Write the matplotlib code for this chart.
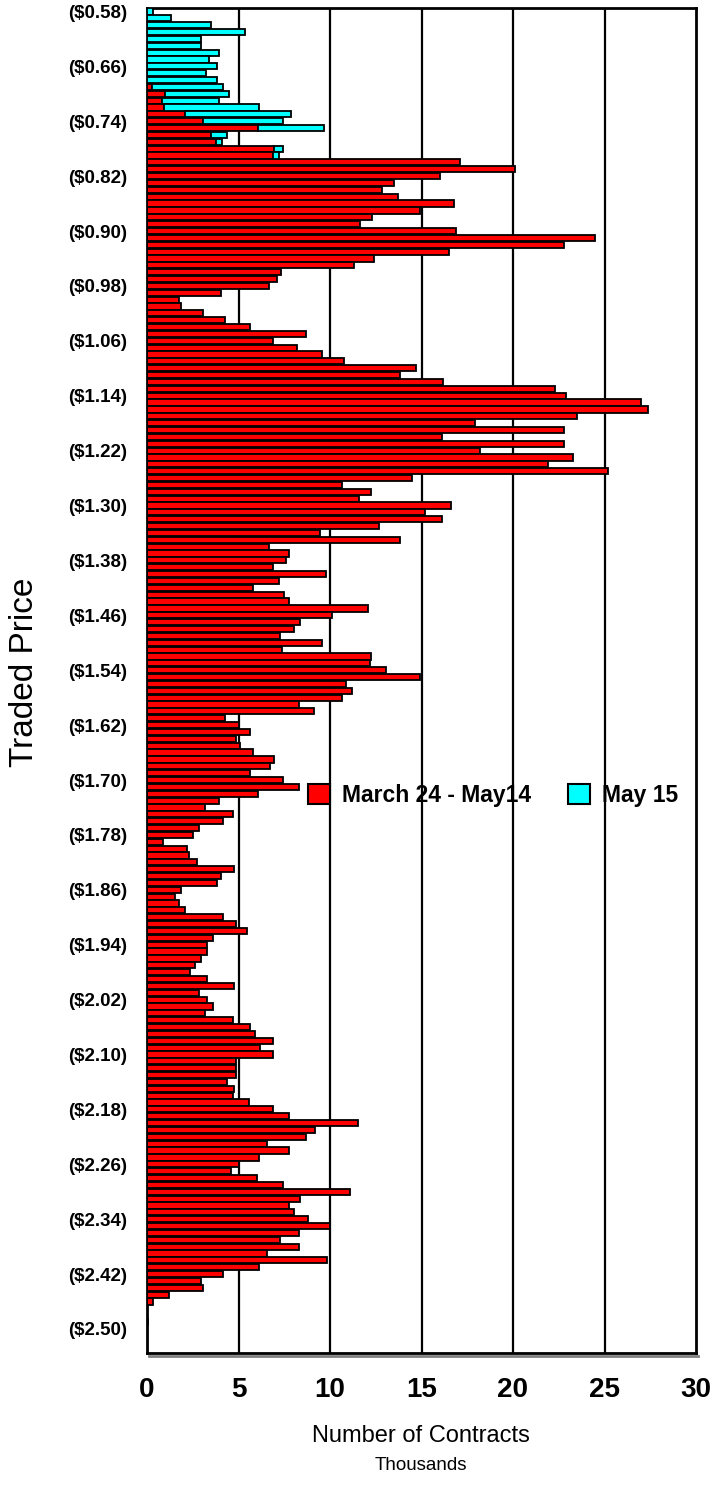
import numpy as np
import matplotlib
matplotlib.use("Agg")
import matplotlib.pyplot as plt
from matplotlib.patches import Patch

plt.rcParams['font.family'] = ['Liberation Sans', 'DejaVu Sans']

# ---- data ----
tick_labels = ["($0.58)", "($0.66)", "($0.74)", "($0.82)", "($0.90)", "($0.98)",
               "($1.06)", "($1.14)", "($1.22)", "($1.30)", "($1.38)", "($1.46)",
               "($1.54)", "($1.62)", "($1.70)", "($1.78)", "($1.86)", "($1.94)",
               "($2.02)", "($2.10)", "($2.18)", "($2.26)", "($2.34)", "($2.42)",
               "($2.50)"]

# March 24 - May14 (thousands of contracts), one value per cent from $0.58 down to $2.53
march_may14 = [
    0, 0, 0, 0, 0, 0, 0, 0, 0, 0,
    0, 0.3, 0.98, 0.8, 0.92, 2.1, 3.06, 6.05, 3.48, 3.79,
    6.96, 6.87, 17.1, 20.1, 16.0, 13.5, 12.85, 13.7, 16.8, 14.9,
    12.3, 11.63, 16.9, 24.5, 22.8, 16.5, 12.4, 11.3, 7.32, 7.08,
    6.65, 4.02, 1.74, 1.85, 3.06, 4.28, 5.65, 8.71, 6.87, 8.17,
    9.58, 10.76, 14.7, 13.84, 16.2, 22.3, 22.9, 27.0, 27.4, 23.5,
    17.9, 22.8, 16.1, 22.8, 18.2, 23.3, 21.9, 25.2, 14.5, 10.63,
    12.26, 11.6, 16.6, 15.2, 16.1, 12.7, 9.46, 13.84, 6.65, 7.74,
    7.59, 6.87, 9.8, 7.19, 5.78, 7.5, 7.74, 12.08, 10.13, 8.37,
    8.04, 7.27, 9.55, 7.38, 12.26, 12.16, 13.06, 14.9, 10.85, 11.2,
    10.63, 8.28, 9.13, 4.24, 5.0, 5.65, 4.88, 5.1, 5.78, 6.96,
    6.74, 5.65, 7.41, 8.28, 6.09, 3.91, 3.15, 4.69, 4.15, 2.84,
    2.52, 0.89, 2.19, 2.3, 2.74, 4.78, 4.02, 3.82, 1.85, 1.52,
    1.76, 2.1, 4.15, 4.88, 5.45, 3.6, 3.3, 3.3, 2.93, 2.61,
    2.37, 3.3, 4.78, 2.84, 3.3, 3.6, 3.15, 4.69, 5.65, 5.9,
    6.87, 6.18, 6.87, 4.88, 4.88, 4.88, 4.37, 4.78, 4.69, 5.56,
    6.87, 7.74, 11.54, 9.17, 8.71, 6.56, 7.74, 6.1, 5.0, 4.57,
    6.0, 7.41, 11.09, 8.37, 7.74, 8.04, 8.82, 10.0, 8.28, 7.28,
    8.28, 6.56, 9.85, 6.1, 4.15, 2.97, 3.06, 1.19, 0.34, 0,
    0, 0.06, 0, 0, 0, 0,
]

# May 15 (only the top prices traded)
may15_top = [0.34, 1.3, 3.48, 5.33, 2.93, 2.93, 3.93, 3.37, 3.82, 3.24,
             3.82, 3.85, 3.49, 3.13, 5.18, 5.76, 4.35, 3.62, 0.89, 0.32,
             0.45, 0.32]

red = np.array(march_may14, dtype=float)
cyan = np.zeros_like(red)
cyan[:len(may15_top)] = may15_top
n = len(red)
pos = np.arange(n)

# ---- figure ----
W, H = 718, 1494
fig = plt.figure(figsize=(W / 100, H / 100), dpi=100)
L, R, T, B = 147, 696, 8, 1353
ax = fig.add_axes([L / W, 1 - B / H, (R - L) / W, (B - T) / H])

for v in range(5, 30, 5):
    ax.axvline(v, color='black', lw=1.6, zorder=1)

m = red > 0
ax.barh(pos[m], red[m], height=0.9, color='#FF0000', edgecolor='black',
        linewidth=1.3, zorder=3)
mc = cyan > 0
ax.barh(pos[mc], cyan[mc], left=red[mc], height=0.9, color='#00FFFF',
        edgecolor='black', linewidth=1.3, zorder=3)

ax.set_xlim(0, 30)
ax.set_ylim(n - 0.5, -0.5)

ax.set_xticks(range(0, 31, 5))
ax.set_xticklabels([str(v) for v in range(0, 31, 5)], fontsize=20, fontweight='bold')
ax.set_yticks(pos[::8][:len(tick_labels)])
ax.set_yticklabels(tick_labels, fontsize=13.5, fontweight='bold')
ax.tick_params(axis='x', length=0, pad=17)
ax.tick_params(axis='y', length=0, pad=14)

for s in ax.spines.values():
    s.set_linewidth(2)
    s.set_color('black')

# bottom shadow
fig.add_artist(plt.Line2D([(L + 2) / W, (R + 2) / W], [1 - (B + 3) / H] * 2,
                          color='#808080', lw=2))

fig.text(25 / W, 1 - 672 / H, "Traded Price", rotation=90, fontsize=24,
         ha='center', va='center')
fig.text(421 / W, 1 - 1436 / H, "Number of Contracts", fontsize=17,
         ha='center', va='center')
fig.text(421 / W, 1 - 1466 / H, "Thousands", fontsize=13.5,
         ha='center', va='center')

handles = [Patch(facecolor='#FF0000', edgecolor='black', lw=1.5),
           Patch(facecolor='#00FFFF', edgecolor='black', lw=1.5)]
leg = ax.legend(handles, ["March 24 - May14", "May 15"], ncol=2, frameon=False,
                loc='center left', bbox_to_anchor=((303 - L) / (R - L) - 0.008, (B - 795) / (B - T)),
                prop={'weight': 'bold', 'size': 16.5}, handlelength=0.95, handleheight=0.95,
                handletextpad=0.55, columnspacing=1.6, borderaxespad=0)
leg.set_zorder(5)

fig.savefig("out.png", dpi=100)
